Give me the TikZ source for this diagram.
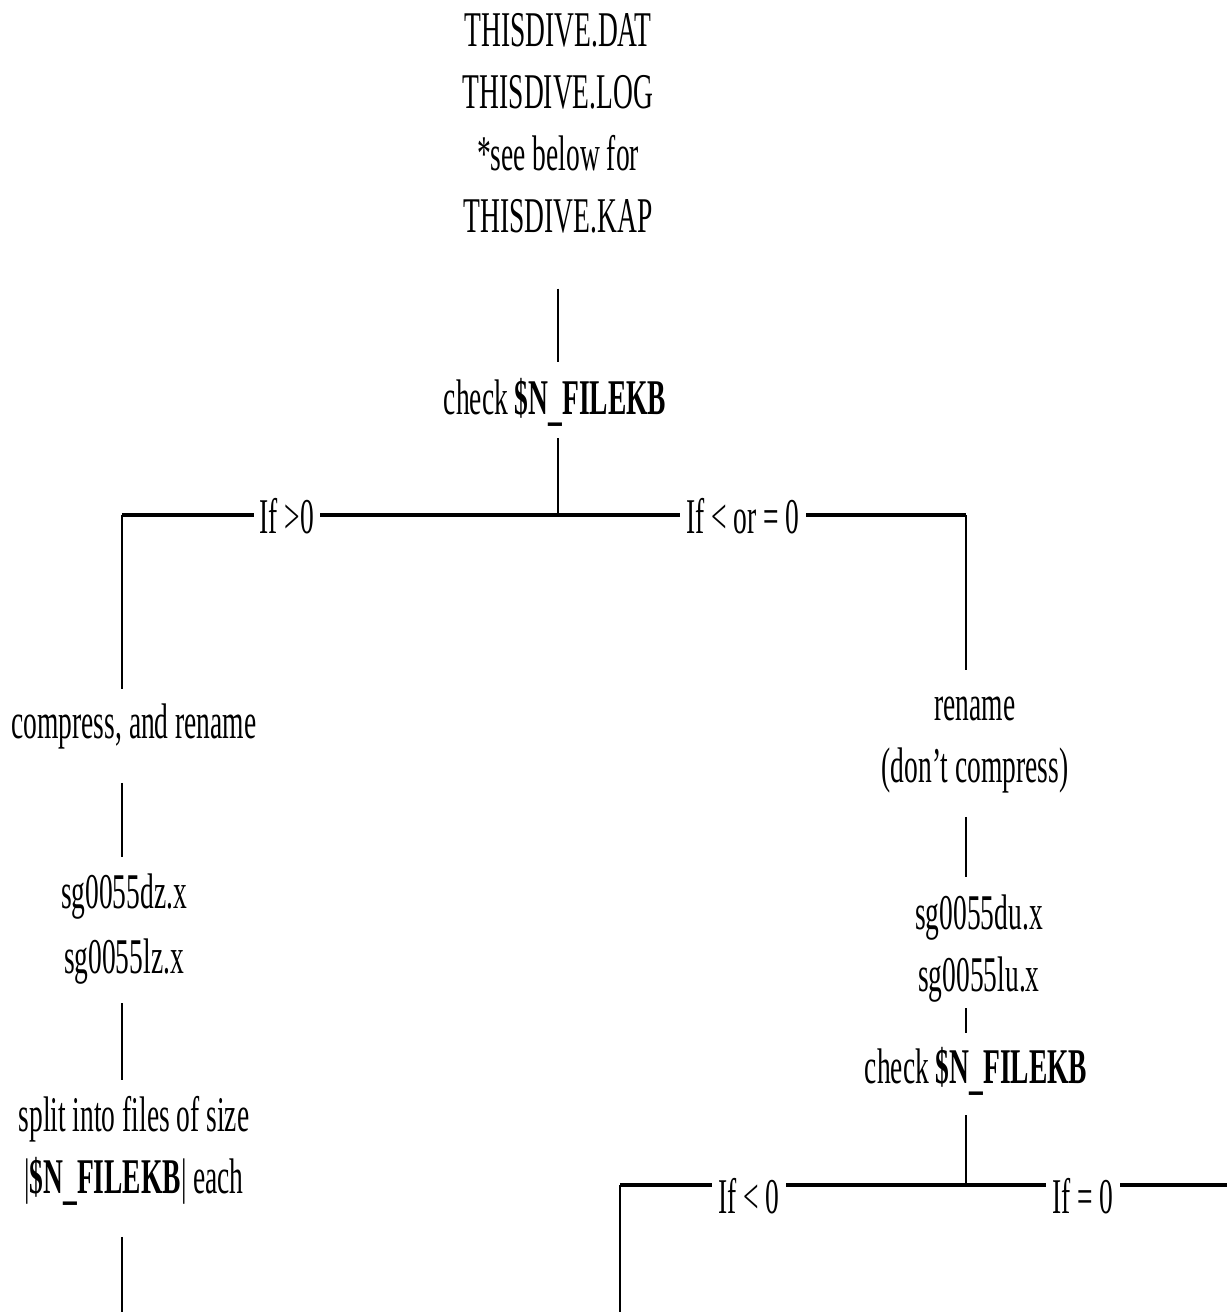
\documentclass[tikz,border=0pt]{standalone}
\usepackage{fontspec}
\setmainfont[FakeStretch=0.55]{Liberation Serif}
\usetikzlibrary{calc}
\newcommand{\fkb}{\textbf{\$N\raisebox{-0.1em}{\_}FILEKB}}

\begin{document}
\begin{tikzpicture}[x=0.02cm, y=-0.02cm,
  font=\fontsize{28.45pt}{35.28pt}\selectfont,
  txt/.style={inner sep=0pt, align=center},
  stem/.style={line width=1.1pt},
  branch/.style={line width=1.8pt},
  cond/.style={fill=white, inner xsep=0.12cm, inner ysep=2pt, anchor=base}]
  \useasboundingbox (0,0) rectangle (1227,1312);

  % Files and checks
  \node[txt, anchor=north] (top) at (558,13) {THISDIVE.DAT\\THISDIVE.LOG\\*see below for\\THISDIVE.KAP};
  \node[txt, anchor=base] (chk1) at (555,414) {check \fkb};
  \node[txt, anchor=base] (cmp) at (134,738) {compress, and rename};
  \node[txt, anchor=north] (zfiles) at (124,873) {sg0055dz.x\\[0.06cm]sg0055lz.x};
  \node[txt, anchor=north] (split) at (134,1096) {split into files of size\\|\fkb| each};
  \node[txt, anchor=north] (ren) at (975,697) {rename\\(don't compress)};
  \node[txt, anchor=north] (ufiles) at (979,894) {sg0055du.x\\sg0055lu.x};
  \node[txt, anchor=base] (chk2) at (976,1083) {check \fkb};

  % Junctions
  \coordinate (j1) at (558,515);
  \coordinate (c1L) at (122,515);
  \coordinate (c1R) at (966,515);
  \coordinate (endL) at (122,1312);
  \coordinate (j2) at (966,1185);
  \coordinate (c2L) at (620,1185);
  \coordinate (c2R) at (1227,1185);
  \coordinate (endR) at (620,1312);

  % Stems
  \draw[stem, shorten <=1.1cm, shorten >=0.3cm] (top.south -| j1) -- (chk1.north -| j1);
  \draw[stem, shorten <=0.24cm] (chk1.south -| j1) -- (j1);
  \draw[stem, shorten >=0.28cm] (c1L) -- (cmp.north -| c1L);
  \draw[stem, shorten <=0.68cm, shorten >=0.32cm] (cmp.south -| c1L) -- (zfiles.north -| c1L);
  \draw[stem, shorten <=0.38cm, shorten >=0.32cm] (zfiles.south -| c1L) -- (split.north -| c1L);
  \draw[stem, shorten <=0.62cm] (split.south -| c1L) -- (endL);
  \draw[stem, shorten >=0.54cm] (c1R) -- (ren.north -| c1R);
  \draw[stem, shorten <=0.46cm, shorten >=0.34cm] (ren.south -| c1R) -- (ufiles.north -| c1R);
  \draw[stem, shorten <=0.12cm, shorten >=0.26cm] (ufiles.south -| c1R) -- (chk2.north -| c1R);
  \draw[stem, shorten <=0.4cm] (chk2.south -| c1R) -- (j2);
  \draw[stem] (c2L) -- (endR);

  % Branches
  \draw[branch] (c1L) -- node[cond, pos=0.378, yshift=-0.36cm] (gt) {If >0} (j1)
    -- node[cond, pos=0.453, yshift=-0.36cm] (le) {If < or = 0} (c1R);
  \draw[branch] (c2L) -- node[cond, pos=0.373, yshift=-0.56cm] (lt) {If < 0} (j2)
    -- node[cond, pos=0.448, yshift=-0.56cm] (eq) {If = 0} (c2R);
\end{tikzpicture}
\end{document}
